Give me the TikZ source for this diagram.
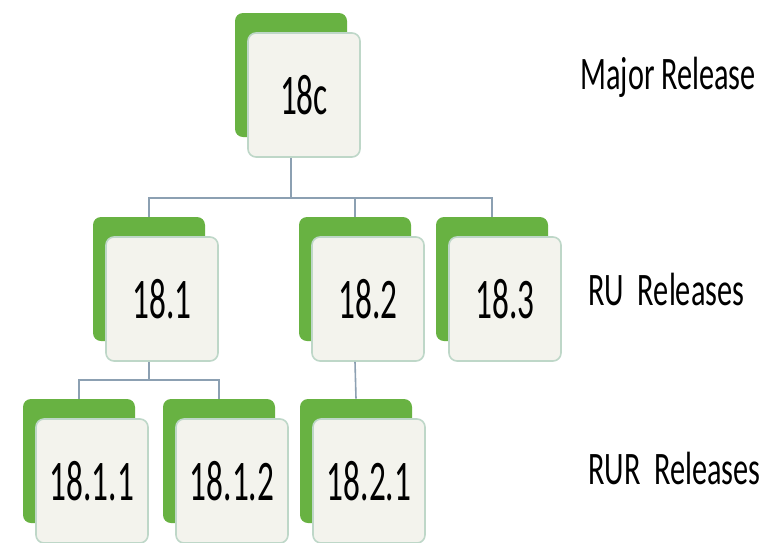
\documentclass[tikz,border=0pt]{standalone}
\usepackage{fontspec}
\setmainfont{Carlito}
\newfontfamily\relfont[FakeStretch=0.58]{Carlito}
\newfontfamily\tierfont[FakeStretch=0.65]{Carlito}
\usepackage{xcolor}
\usetikzlibrary{positioning}
\definecolor{relgreen}{RGB}{104,178,66}
\definecolor{relfill}{RGB}{243,243,237}
\definecolor{reledge}{RGB}{190,215,200}
\definecolor{linkcol}{RGB}{140,160,178}
\tikzset{relbox/.style={rectangle, rounded corners=4pt, minimum width=56pt, minimum height=62pt,
inner sep=0pt, font=\relfont\fontsize{28.7}{30}\selectfont},
relfront/.style={relbox, draw=reledge, line width=0.8pt, fill=relfill},
relback/.style={relbox, fill=relgreen}}

\begin{document}
\begin{tikzpicture}[x=0.5pt, y=-0.5pt, link/.style={draw=linkcol, line width=0.8pt},
tier/.style={anchor=base west, inner sep=0pt, font=\tierfont\fontsize{23.3}{25}\selectfont}]
\useasboundingbox (0,0) rectangle (775,542);
% green cards behind, then the white cards
\foreach \nm/\x/\y/\txt in {18c/304/95/18c, 181/162/299/18.1, 182/368/299/18.2, 183/505/299/18.3,
    1811/92/481/18.1.1, 1812/232/481/18.1.2, 1821/369/481/18.2.1}
  {
    \node[relback] (b\nm) at (\x-13,\y-20) {};
    \node[relfront] (n\nm) at (\x,\y) {\txt};
  }
\coordinate (bus18c) at (0,198);
\coordinate (bus181) at (0,380);
% tree lines
\draw[link] (b18c.south |- n18c.south) -- (b18c.south |- bus18c);
\draw[link] (b181.north) -- (b181.north |- bus18c) -- (b183.north |- bus18c) -- (b183.north);
\draw[link] (b182.north) -- (b182.north |- bus18c);
\draw[link] (b181.south |- n181.south) -- (b181.south |- bus181);
\draw[link] (b1811.north) -- (b1811.north |- bus181) -- (b1812.north |- bus181) -- (b1812.north);
\draw[link] (b182.south |- n182.south) -- (b1821.north);
% level names
\node[tier] (major) at (580,89) {Major Release};
\node[tier] (ru) at (588,305) {RU~~Releases};
\node[tier] (rur) at (588,484) {RUR~~Releases};
\end{tikzpicture}
\end{document}
